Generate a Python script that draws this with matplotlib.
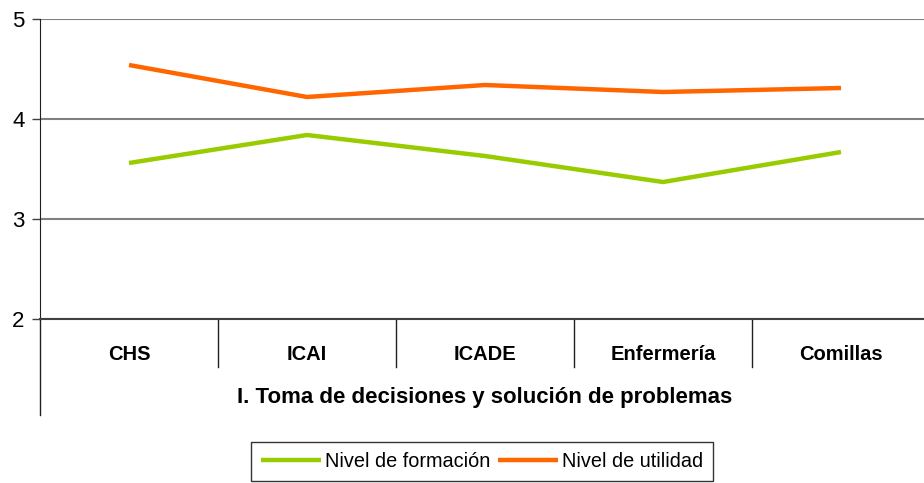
import matplotlib
matplotlib.use('Agg')
import matplotlib.pyplot as plt
import matplotlib.transforms as mtransforms

plt.rcParams['font.family'] = ['Liberation Sans', 'DejaVu Sans']

categories = ['CHS', 'ICAI', 'ICADE', 'Enfermería', 'Comillas']
formacion = [3.56, 3.84, 3.63, 3.37, 3.67]
utilidad = [4.54, 4.22, 4.34, 4.27, 4.31]
title = 'I. Toma de decisiones y solución de problemas'

W, H = 924, 483
fig = plt.figure(figsize=(W / 100, H / 100), dpi=100)
ax = fig.add_axes([40 / W, (H - 319) / H, 890 / W, 300 / H])

x = list(range(len(categories)))
ax.plot(x, formacion, color='#99CC00', lw=3.2, solid_capstyle='butt', label='Nivel de formación')
ax.plot(x, utilidad, color='#FF6600', lw=3.2, solid_capstyle='butt', label='Nivel de utilidad')

ax.set_xlim(-0.5, len(categories) - 0.5)
ax.set_ylim(2, 5)
ax.set_yticks([2, 3, 4, 5])
ax.yaxis.grid(True, color='#808080', lw=1.5)
ax.set_axisbelow(True)
ax.tick_params(axis='y', length=6, width=1, color='#404040', labelsize=16, pad=5)
ax.set_xticks(x)
ax.set_xticklabels(categories, fontweight='bold', fontsize=14.5)
ax.tick_params(axis='x', length=0, pad=19)

for s in ['top', 'right']:
    ax.spines[s].set_visible(False)
ax.spines['left'].set_color('#202020')
ax.spines['bottom'].set_color('#404040')
ax.spines['bottom'].set_linewidth(1.5)

trans = mtransforms.blended_transform_factory(ax.transData, ax.transAxes)
for i in range(1, len(categories)):
    ax.plot([i - 0.5, i - 0.5], [0, -48 / 300], transform=trans, color='#202020', lw=1, clip_on=False)
ax.plot([-0.5, -0.5], [0, -96 / 300], transform=trans, color='#202020', lw=1, clip_on=False)

ax.text(0.5, -78 / 300, title, transform=ax.transAxes, ha='center', va='center',
        fontweight='bold', fontsize=16)

leg = fig.legend(loc='upper center', bbox_to_anchor=(482 / W, (H - 442) / H), ncol=2,
                 fontsize=14.3, frameon=True, fancybox=False, edgecolor='#000000',
                 handlelength=3.0, handletextpad=0.2, columnspacing=0.4,
                 borderpad=0.5, borderaxespad=0)
leg.get_frame().set_linewidth(1)

fig.savefig('out.png', dpi=100)
